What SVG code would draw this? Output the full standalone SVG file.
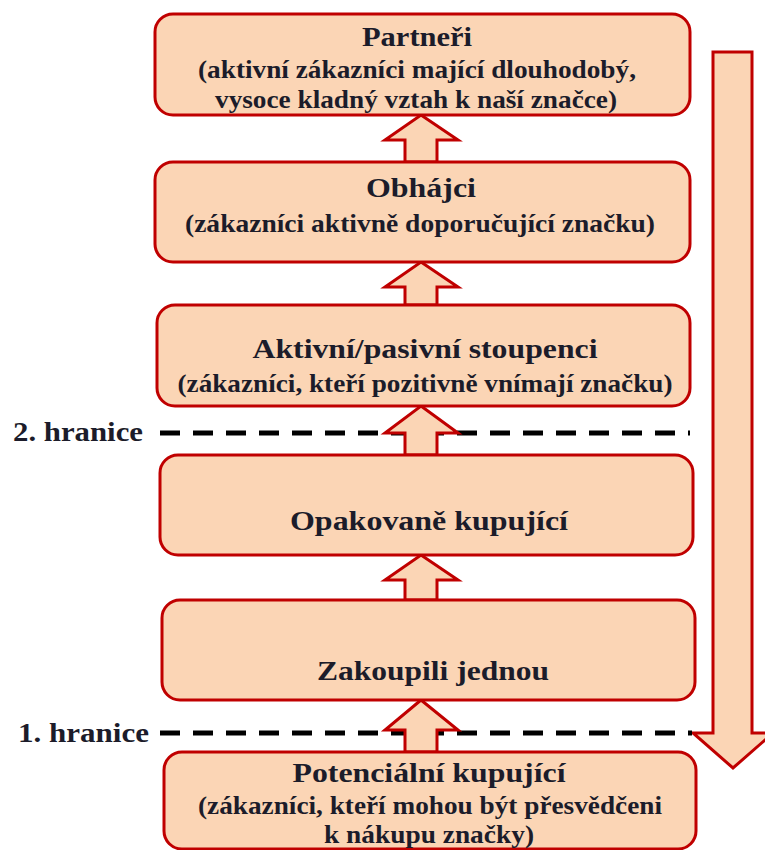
<svg xmlns="http://www.w3.org/2000/svg" width="765" height="850" viewBox="0 0 765 850">
  <style>
    .box { fill: #FBD5B5; stroke: #C00000; stroke-width: 3; }
    .arrow { fill: #FBD5B5; stroke: #C00000; stroke-width: 3; stroke-linejoin: miter; }
    .limit { stroke: #000; stroke-width: 5; stroke-dasharray: 20 13; fill: none; }
    text { font-family: "Liberation Serif", "Times New Roman", serif; font-weight: bold; fill: #1c1c2a; text-anchor: middle; }
    .title { font-size: 28px; }
    .sub { font-size: 25px; }
    .lbl { font-size: 27px; text-anchor: start; }
  </style>

  <!-- loyalty direction: long arrow down the right side -->
  <g id="ladder-arrow">
    <polygon class="arrow" points="713,52 752,52 752,733 773,733 733,768 693,733 713,733"/>
  </g>

  <!-- thresholds -->
  <g id="thresholds">
    <line class="limit" x1="160" y1="433" x2="690" y2="433"/>
    <text class="lbl" x="13" y="441" textLength="130" lengthAdjust="spacingAndGlyphs">2. hranice</text>
    <line class="limit" x1="160" y1="733" x2="692" y2="733"/>
    <text class="lbl" x="18" y="742" textLength="131" lengthAdjust="spacingAndGlyphs">1. hranice</text>
  </g>

  <!-- block arrows between levels -->
  <g id="connectors">
    <polygon class="arrow" points="421,115 458,140 437,140 437,162 405,162 405,140 385,140"/>
    <polygon class="arrow" points="421,262 458,287 437,287 437,305 405,305 405,287 385,287"/>
    <polygon class="arrow" points="421,406 458,433 437,433 437,455 405,455 405,433 385,433"/>
    <polygon class="arrow" points="421,555 458,580 437,580 437,600 405,600 405,580 385,580"/>
    <polygon class="arrow" points="421,700 458,730 437,730 437,752 405,752 405,730 385,730"/>
  </g>

  <g id="partneri">
    <rect class="box" x="155" y="14" width="535" height="101" rx="18"/>
    <text class="title" x="417" y="46" textLength="110" lengthAdjust="spacingAndGlyphs">Partneři</text>
    <text class="sub" x="417" y="78" textLength="438" lengthAdjust="spacingAndGlyphs">(aktivní zákazníci mající dlouhodobý,</text>
    <text class="sub" x="416" y="108" textLength="402" lengthAdjust="spacingAndGlyphs">vysoce kladný vztah k naší značce)</text>
  </g>

  <g id="obhajci">
    <rect class="box" x="155" y="162" width="535" height="100" rx="18"/>
    <text class="title" x="421" y="197" textLength="110" lengthAdjust="spacingAndGlyphs">Obhájci</text>
    <text class="sub" x="420" y="232" textLength="470" lengthAdjust="spacingAndGlyphs">(zákazníci aktivně doporučující značku)</text>
  </g>

  <g id="stoupenci">
    <rect class="box" x="157" y="305" width="533" height="101" rx="18"/>
    <text class="title" x="425" y="358" textLength="345" lengthAdjust="spacingAndGlyphs">Aktivní/pasivní stoupenci</text>
    <text class="sub" x="425" y="392" textLength="495" lengthAdjust="spacingAndGlyphs">(zákazníci, kteří pozitivně vnímají značku)</text>
  </g>

  <g id="opakovane">
    <rect class="box" x="160" y="455" width="533" height="100" rx="18"/>
    <text class="title" x="429" y="530" textLength="278" lengthAdjust="spacingAndGlyphs">Opakovaně kupující</text>
  </g>

  <g id="zakoupili">
    <rect class="box" x="162" y="600" width="533" height="100" rx="18"/>
    <text class="title" x="433" y="680" textLength="232" lengthAdjust="spacingAndGlyphs">Zakoupili jednou</text>
  </g>

  <g id="potencialni">
    <rect class="box" x="164" y="752" width="532" height="97" rx="18"/>
    <text class="title" x="429" y="782" textLength="273" lengthAdjust="spacingAndGlyphs">Potenciální kupující</text>
    <text class="sub" x="430" y="814" textLength="464" lengthAdjust="spacingAndGlyphs">(zákazníci, kteří mohou být přesvědčeni</text>
    <text class="sub" x="429" y="843" textLength="210" lengthAdjust="spacingAndGlyphs">k nákupu značky)</text>
  </g>
</svg>
